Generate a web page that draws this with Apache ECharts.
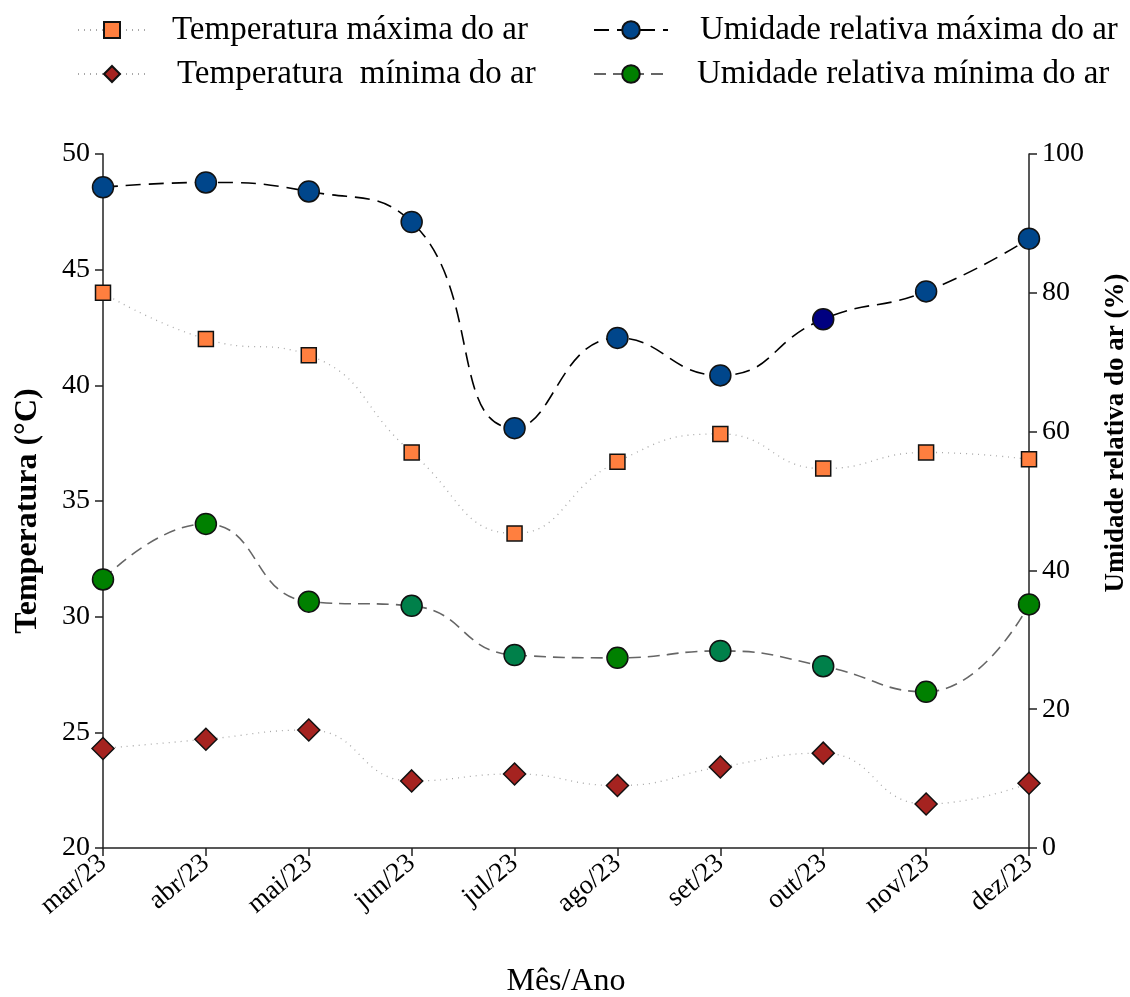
<!DOCTYPE html>
<html>
<head>
<meta charset="utf-8">
<script src="https://cdn.jsdelivr.net/npm/echarts@6/dist/echarts.min.js"></script>
<style>
  html, body { margin: 0; padding: 0; background: #fff; overflow: hidden; }
  #chart { width: 1130px; height: 997px; }
</style>
</head>
<body>
<div id="chart"></div>
<script>
// Monthly air temperature and relative humidity, mar/23 – dez/23
const months = ['mar/23', 'abr/23', 'mai/23', 'jun/23', 'jul/23', 'ago/23', 'set/23', 'out/23', 'nov/23', 'dez/23'];
const tempMax = [44.0, 42.0, 41.3, 37.1, 33.6, 36.7, 37.9, 36.4, 37.1, 36.8];
const tempMin = [24.3, 24.7, 25.1, 22.9, 23.2, 22.7, 23.5, 24.1, 21.9, 22.8];
const humMax = [95.2, 95.9, 94.6, 90.2, 60.5, 73.5, 68.1, 76.2, 80.2, 87.8];
const humMin = [38.7, 46.7, 35.5, 34.9, 27.8, 27.4, 28.4, 26.2, 22.5, 35.1];

const tempTicks = { min: 20, max: 50, interval: 5 };
const humTicks = { min: 0, max: 100, interval: 20 };

// marker fills per month (a few points use a slightly different shade)
const humMaxFill = ['#00468b', '#00468b', '#00468b', '#00468b', '#00468b', '#00468b', '#00468b', '#000080', '#00468b', '#00468b'];
const humMinFill = ['#008000', '#008000', '#008000', '#00804a', '#00804a', '#008000', '#00804a', '#00804a', '#008000', '#008000'];

const FONT = '"Liberation Serif", "Times New Roman", serif';

function withFill(values, fills) {
  return values.map((v, i) => ({ value: v, itemStyle: { color: fills[i] } }));
}

const chart = echarts.init(document.getElementById('chart'), null, { renderer: 'canvas', width: 1130, height: 997 });

const axisLine = { show: true, lineStyle: { color: '#222', width: 1.5 } };
const axisTick = { show: true, inside: false, length: 8, lineStyle: { color: '#222', width: 1.5 } };
const legendText = { fontFamily: FONT, fontSize: 33, color: '#000', lineHeight: 34 };

function legendItem(name, gap) {
  return { name: name, textStyle: { padding: [0, 0, 0, gap] } };
}

chart.setOption({
  backgroundColor: '#fff',
  animation: false,
  textStyle: { fontFamily: FONT },
  legend: [
    {
      left: 72, top: 8, orient: 'vertical',
      itemWidth: 68, itemHeight: 20, itemGap: 10,
      data: [legendItem('Temperatura máxima do ar', 21), legendItem('Temperatura  mínima do ar', 26)],
      textStyle: legendText
    },
    {
      left: 588, top: 8, orient: 'vertical',
      itemWidth: 74, itemHeight: 22, itemGap: 10,
      data: [legendItem('Umidade relativa máxima do ar', 27), legendItem('Umidade relativa mínima do ar', 24)],
      textStyle: legendText
    }
  ],
  grid: { left: 103, right: 101, top: 154, bottom: 149, containLabel: false, outerBoundsMode: 'none' },
  xAxis: {
    type: 'category',
    data: months,
    boundaryGap: false,
    axisLine: axisLine,
    axisTick: Object.assign({}, axisTick, { alignWithLabel: true }),
    splitLine: { show: false },
    axisLabel: { rotate: 40, margin: 12, fontFamily: FONT, fontSize: 27, color: '#000' },
    name: 'Mês/Ano',
    nameLocation: 'middle',
    nameGap: 118,
    nameTextStyle: { fontFamily: FONT, fontSize: 32, color: '#000' }
  },
  yAxis: [
    {
      type: 'value', position: 'left',
      min: tempTicks.min, max: tempTicks.max, interval: tempTicks.interval,
      axisLine: axisLine, axisTick: axisTick, splitLine: { show: false },
      axisLabel: { margin: 13, fontFamily: FONT, fontSize: 28, color: '#000' },
      name: 'Temperatura (°C)', nameLocation: 'middle', nameGap: 59, nameRotate: 90,
      nameTextStyle: { fontFamily: FONT, fontSize: 32, fontWeight: 'bold', color: '#000', padding: [0, 20, 0, 0] }
    },
    {
      type: 'value', position: 'right',
      min: humTicks.min, max: humTicks.max, interval: humTicks.interval,
      axisLine: axisLine, axisTick: axisTick, splitLine: { show: false },
      axisLabel: { margin: 13, fontFamily: FONT, fontSize: 28, color: '#000' },
      name: 'Umidade relativa do ar (%)', nameLocation: 'middle', nameGap: 74, nameRotate: 90,
      nameTextStyle: { fontFamily: FONT, fontSize: 27, fontWeight: 'bold', color: '#000', padding: [0, 0, 0, 136] }
    }
  ],
  series: [
    {
      name: 'Temperatura máxima do ar', type: 'line', yAxisIndex: 0, data: tempMax,
      smooth: 0.5, symbol: 'rect', symbolSize: 15, z: 3,
      lineStyle: { color: '#a8a8a8', width: 1.3, type: [1, 5] },
      itemStyle: { color: '#ff7f3f', borderColor: '#111', borderWidth: 1.5, opacity: 1 }
    },
    {
      name: 'Temperatura  mínima do ar', type: 'line', yAxisIndex: 0, data: tempMin,
      smooth: 0.5, symbol: 'diamond', symbolSize: 22, z: 3,
      lineStyle: { color: '#a8a8a8', width: 1.3, type: [1, 5] },
      itemStyle: { color: '#a52320', borderColor: '#111', borderWidth: 1.5, opacity: 1 }
    },
    {
      name: 'Umidade relativa máxima do ar', type: 'line', yAxisIndex: 1, data: withFill(humMax, humMaxFill),
      smooth: 0.5, symbol: 'circle', symbolSize: 21, z: 4,
      lineStyle: { color: '#000', width: 1.6, type: [15, 8] },
      itemStyle: { color: '#00468b', borderColor: '#111', borderWidth: 1.5, opacity: 1 }
    },
    {
      name: 'Umidade relativa mínima do ar', type: 'line', yAxisIndex: 1, data: withFill(humMin, humMinFill),
      smooth: 0.5, symbol: 'circle', symbolSize: 21, z: 4,
      lineStyle: { color: '#666', width: 1.6, type: [12, 7] },
      itemStyle: { color: '#008000', borderColor: '#111', borderWidth: 1.5, opacity: 1 }
    }
  ]
});
</script>
</body>
</html>
